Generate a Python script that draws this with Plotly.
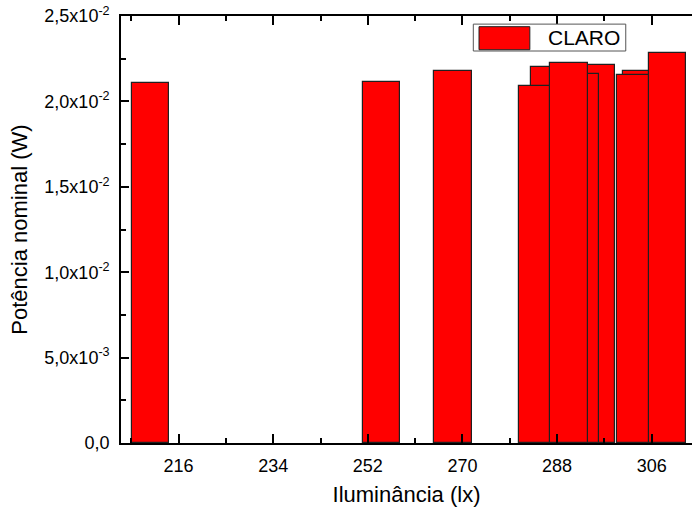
import plotly.graph_objects as go

# illuminance (lx) and nominal power (W), in drawing order
iluminancia = [210.65, 254.6, 268.25, 286.7, 284.4, 295.45, 292.45, 290.3, 304.05, 303.05, 309.0]
potencia = [0.02110, 0.02115, 0.02180, 0.02200, 0.02090, 0.02211, 0.02159, 0.02227, 0.02180, 0.02156, 0.02282]
largura = 7.17

y_ticks = [0, 0.005, 0.010, 0.015, 0.020, 0.025]
y_labels = ["0,0", "5,0x10<sup>-3</sup>", "1,0x10<sup>-2</sup>", "1,5x10<sup>-2</sup>",
            "2,0x10<sup>-2</sup>", "2,5x10<sup>-2</sup>"]

fonte = "Liberation Sans, Arial, sans-serif"

fig = go.Figure()
fig.add_trace(go.Bar(x=iluminancia, y=potencia, width=largura, name="CLARO",
                     marker=dict(color="#ff0000", line=dict(color="#202020", width=1.2)),
                     showlegend=False))

#legend drawn by hand, origin style (paper = plot area fractions)
fig.add_shape(type="rect", xref="paper", yref="paper", x0=0.617, x1=0.884, y0=0.981, y1=0.918,
              line=dict(color="#555555", width=1), fillcolor="white")
fig.add_shape(type="rect", xref="paper", yref="paper", x0=0.627, x1=0.716, y0=0.975, y1=0.921,
              line=dict(color="#202020", width=1), fillcolor="#ff0000")
fig.add_annotation(text="CLARO", xref="paper", yref="paper", x=0.810, y=0.950, showarrow=False,
                   xanchor="center", yanchor="middle",
                   font=dict(family=fonte, size=21, color="black"))

fig.update_layout(
    width=692, height=509,
    margin=dict(l=121, r=0, t=16, b=66),
    plot_bgcolor="white", paper_bgcolor="white",
    barmode="overlay", bargap=0,
    font=dict(family=fonte, size=18, color="black"),
    xaxis=dict(
        title=dict(text="Iluminância (lx)", font=dict(size=22), standoff=11),
        automargin=False,
        range=[205.05, 313.66], tick0=216, dtick=18,
        ticks="inside", ticklen=9, tickwidth=1.5, tickcolor="black",
        ticklabelstandoff=6,
        showline=True, linewidth=1.6, linecolor="black", mirror="ticks",
        showgrid=False, zeroline=False,
        minor=dict(ticks="inside", dtick=9, tick0=216, ticklen=5, tickwidth=1.5, tickcolor="black"),
    ),
    yaxis=dict(
        title=dict(text="Potência nominal (W)", font=dict(size=22), standoff=11),
        automargin=False,
        range=[0, 0.025], tickvals=y_ticks, ticktext=y_labels,
        ticks="inside", ticklen=8, tickwidth=1.5, tickcolor="black",
        ticklabelstandoff=6, ticklabeloverflow="allow",
        showline=True, linewidth=1.6, linecolor="black",
        showgrid=False, zeroline=False,
        minor=dict(ticks="inside", dtick=0.0025, ticklen=5, tickwidth=1.5, tickcolor="black"),
    ),
)

# drop the page's default body margin so the figure sits at 0,0
fig.write_html("out.html", config={"displayModeBar": False},
               post_script="document.body.style.margin='0';")
